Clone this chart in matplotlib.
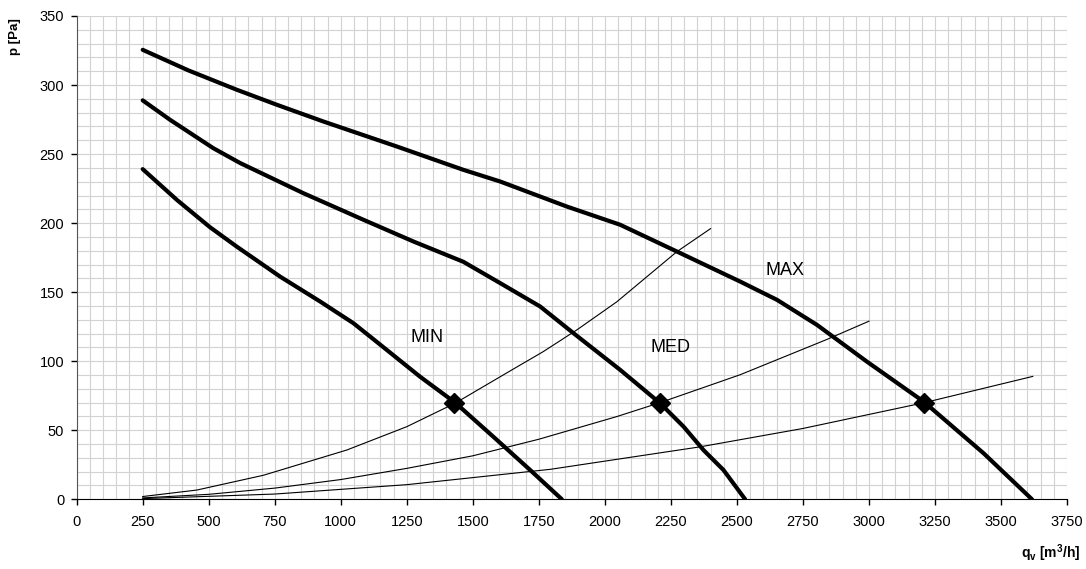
import matplotlib
matplotlib.use("Agg")
import matplotlib.pyplot as plt
from matplotlib.ticker import MultipleLocator

plt.rcParams['font.family'] = ['Liberation Sans', 'DejaVu Sans']

# Fan curves (thick)
max_q = [250, 423, 606, 758, 934, 1212, 1464, 1604, 1856, 2058, 2285, 2512, 2652, 2803, 2992, 3207, 3434, 3617]
max_p = [325.5, 310.6, 296.6, 285.7, 273.6, 255.5, 238.6, 230.1, 212.0, 198.8, 178.3, 157.7, 144.4, 126.3, 99.7, 70.7, 33.3, 0]

med_q = [250, 353, 517, 619, 858, 1086, 1275, 1464, 1604, 1755, 1881, 2058, 2209, 2298, 2373, 2449, 2531]
med_p = [288.9, 274.9, 254.3, 243.5, 221.7, 202.4, 186.7, 172.0, 156.5, 139.6, 120.3, 93.7, 69.6, 52.6, 35.7, 21.2, 0]

min_q = [250, 379, 505, 606, 770, 922, 1048, 1174, 1300, 1433, 1591, 1717, 1837]
min_p = [239.1, 216.9, 197.0, 183.0, 161.3, 143.2, 127.5, 108.2, 88.8, 70.0, 43.0, 21.2, 0]

# System curves (thin)
sys1_q = [250, 455, 707, 1023, 1250, 1433, 1654, 1767, 1894, 2045, 2273, 2400]
sys1_p = [2.0, 6.7, 17.4, 35.7, 52.6, 69.6, 94.4, 107.0, 122.7, 143.0, 179.4, 196.0]

sys2_q = [250, 500, 750, 1000, 1250, 1500, 1750, 2045, 2209, 2512, 2841, 3000]
sys2_p = [1.0, 3.6, 8.1, 14.3, 22.4, 31.5, 43.5, 59.9, 70.0, 90.2, 115.8, 129.0]

sys3_q = [250, 750, 1250, 1793, 2361, 2750, 3210, 3620]
sys3_p = [0.5, 3.8, 10.6, 21.7, 38.0, 51.3, 70.0, 89.0]

# Operating points
op_q = [1430, 2210, 3210]
op_p = [70, 70, 70]

labels = ["MIN", "MED", "MAX"]
label_q = [1327, 2247, 2681]
label_p = [117, 110, 166]

fig = plt.figure(figsize=(10.86, 5.69), dpi=100)
ax = fig.add_axes([0.0706, 0.1225, 0.912, 0.8494])

ax.set_xlim(0, 3750)
ax.set_ylim(0, 350)
ax.xaxis.set_major_locator(MultipleLocator(250))
ax.xaxis.set_minor_locator(MultipleLocator(50))
ax.yaxis.set_major_locator(MultipleLocator(50))
ax.yaxis.set_minor_locator(MultipleLocator(10))
ax.grid(which='both', color='#d2d2d2', linewidth=0.8)
ax.set_axisbelow(True)
ax.tick_params(which='minor', length=0)
ax.tick_params(which='major', length=4, width=1, direction='out', labelsize=10.5, colors='#000000')
ax.tick_params(axis='x', pad=7)
ax.tick_params(axis='y', pad=5)
for s in ['top', 'right']:
    ax.spines[s].set_visible(False)
ax.spines['left'].set_color('#555555')
ax.spines['bottom'].set_color('#000000')

for q, p in [(sys1_q, sys1_p), (sys2_q, sys2_p), (sys3_q, sys3_p)]:
    ax.plot(q, p, color='black', linewidth=0.8, zorder=3)
for q, p in [(max_q, max_p), (med_q, med_p), (min_q, min_p)]:
    ax.plot(q, p, color='black', linewidth=3.0, solid_capstyle='round', solid_joinstyle='round', zorder=4)

ax.plot(op_q, op_p, linestyle='none', marker='D', markersize=10, color='black', zorder=5)

for t, q, p in zip(labels, label_q, label_p):
    ax.text(q, p, t, fontsize=13, ha='center', va='center', zorder=6)

fig.text(0.0138, 0.935, 'p [Pa]', rotation=90, fontsize=9.5, fontweight='bold', ha='center', va='center')
fig.text(0.9945, 0.027, r'q$_\mathregular{v}$ [m$^\mathregular{3}$/h]', fontsize=10, fontweight='bold', ha='right', va='center')

fig.savefig('out.png', dpi=100)
